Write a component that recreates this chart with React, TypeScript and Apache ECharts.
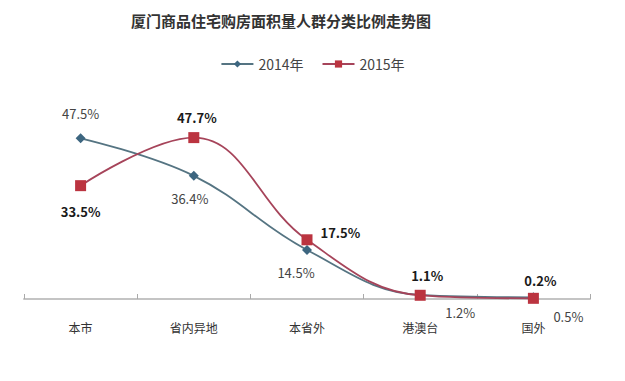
import React, { useEffect, useRef } from "react";
import * as echarts from "echarts";

const title = "厦门商品住宅购房面积量人群分类比例走势图";
const categories = ["本市", "省内异地", "本省外", "港澳台", "国外"];
const seriesNames = ["2014年", "2015年"];
const values2014 = [47.5, 36.4, 14.5, 1.2, 0.5];
const values2015 = [33.5, 47.7, 17.5, 1.1, 0.2];

const FONT = "'Noto Sans CJK SC', 'Noto Sans', sans-serif";

// label placement per point: [position, distance, offsetX, offsetY]
const place2014: any[] = [
  ["top", 13, 0, 0],
  ["bottom", 11, -4, 0],
  ["bottom", 11, -11, 0],
  ["bottom", 6, 40, 0],
  ["bottom", 8, 35, 0],
];
const place2015: any[] = [
  ["bottom", 14, 0, 0],
  ["top", 8, 3, 0],
  ["right", 8, 0, -7],
  ["top", 8, 7, 0],
  ["top", 6, 7, 0],
];

function labelFor(p: any[], bold: boolean) {
  return {
    show: true,
    position: p[0],
    distance: p[1],
    offset: [p[2], p[3]],
    formatter: (d: any) => d.value + "%",
    fontFamily: FONT,
    fontSize: 13,
    color: bold ? "#1a1a1a" : "#444",
    fontWeight: bold ? "bold" : "normal",
  };
}

export default function App() {
  const ref = useRef<HTMLDivElement>(null);
  useEffect(() => {
    if (!ref.current) return;
    const chart = echarts.init(ref.current, undefined, { renderer: "svg" });
    chart.setOption({
      animation: false,
      backgroundColor: "#fff",
      title: {
        text: title,
        left: 118,
        top: 0,
        textStyle: { fontFamily: FONT, fontSize: 15, fontWeight: "bold", color: "#333" },
      },
      legend: {
        data: seriesNames,
        top: 44,
        left: "center",
        itemWidth: 32,
        itemHeight: 9,
        itemGap: 18,
        textStyle: { fontFamily: FONT, fontSize: 14, color: "#444" },
      },
      grid: { left: 16, right: 27, top: 88, bottom: 74 },
      xAxis: {
        type: "category",
        data: categories,
        boundaryGap: true,
        axisLine: { lineStyle: { color: "#c4c4c4", width: 2 } },
        axisTick: { show: true, inside: true, length: 5, lineStyle: { color: "#aaa" } },
        axisLabel: { fontFamily: FONT, fontSize: 12, color: "#333", margin: 22 },
      },
      yAxis: {
        type: "value",
        min: 0,
        max: 60,
        show: false,
        splitLine: { show: false },
      },
      series: [
        {
          name: seriesNames[0],
          type: "line",
          smooth: 0.4,
          data: values2014.map((v, i) => ({ value: v, label: labelFor(place2014[i], false) })),
          symbol: "diamond",
          symbolSize: 10,
          itemStyle: { color: "#3d6680" },
          lineStyle: { color: "#557482", width: 1.8 },
          z: 2,
        },
        {
          name: seriesNames[1],
          type: "line",
          smooth: 0.4,
          data: values2015.map((v, i) => ({ value: v, label: labelFor(place2015[i], true) })),
          symbol: "rect",
          symbolSize: 11,
          itemStyle: { color: "#bb3440" },
          lineStyle: { color: "#a6445a", width: 1.8 },
          z: 3,
        },
      ],
    });
    return () => chart.dispose();
  }, []);
  return <div ref={ref} style={{ width: 609, height: 365 }} />;
}
